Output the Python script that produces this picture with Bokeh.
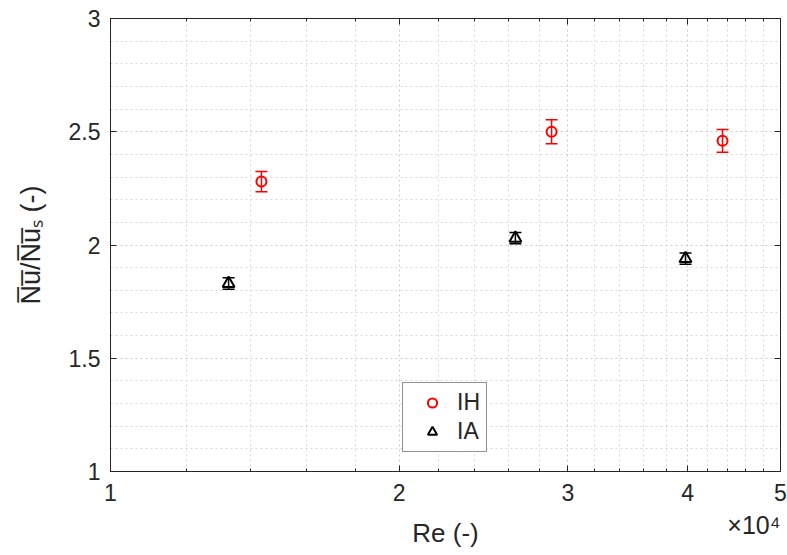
from bokeh.plotting import figure
from bokeh.models import (FixedTicker, Whisker, TeeHead, ColumnDataSource,
                          Legend, LegendItem, LogAxis, LinearAxis, Range1d)
from bokeh.embed import file_html
from bokeh.resources import INLINE

# ---- data ----
ih_re = [1.437e4, 2.885e4, 4.35e4]
ih_nu = [2.28, 2.50, 2.46]
ih_err = [0.045, 0.053, 0.050]

ia_re = [1.328e4, 2.645e4, 3.98e4]
ia_nu = [1.83, 2.03, 1.94]
ia_err = [0.025, 0.025, 0.025]

x_major = [1e4, 2e4, 3e4, 4e4, 5e4]
x_major_labels = ["1", "2", "3", "4", "5"]
x_minor = [1.2e4, 1.4e4, 1.6e4, 1.8e4, 2.2e4, 2.4e4, 2.6e4, 2.8e4,
           3.2e4, 3.4e4, 3.6e4, 3.8e4, 4.2e4, 4.4e4, 4.6e4, 4.8e4]
y_major = [1, 1.5, 2, 2.5, 3]
y_major_labels = ["1", "1.5", "2", "2.5", "3"]
y_minor = [1.1, 1.2, 1.3, 1.4, 1.6, 1.7, 1.8, 1.9, 2.1, 2.2, 2.3, 2.4,
           2.6, 2.7, 2.8, 2.9]

FONT = "Liberation Sans"
AX = "#262626"

p = figure(width=787, height=555, x_axis_type="log",
           x_range=Range1d(1e4, 5e4), y_range=Range1d(1, 3),
           output_backend="svg", toolbar_location=None,
           min_border_left=110, min_border_right=7,
           min_border_top=18, min_border_bottom=83,
           background_fill_color="white", border_fill_color="white")
p.outline_line_color = AX
p.outline_line_width = 1

xt = FixedTicker(ticks=x_major, minor_ticks=x_minor)
yt = FixedTicker(ticks=y_major, minor_ticks=y_minor)

xa = p.xaxis[0]
xa.ticker = xt
xa.major_label_overrides = {v: s for v, s in zip(x_major, x_major_labels)}
xa.axis_label = "Re (-)"
ya = p.yaxis[0]
ya.ticker = yt
ya.major_label_overrides = {v: s for v, s in zip(y_major, y_major_labels)}
ya.axis_label = "N\u0305u\u0305/N\u0305u\u0305\u209b (-)"

for ax in (xa, ya):
    ax.axis_line_color = AX
    ax.major_tick_line_color = AX
    ax.minor_tick_line_color = AX
    ax.major_tick_in = 6
    ax.major_tick_out = 0
    ax.minor_tick_in = 3
    ax.minor_tick_out = 0
    ax.major_label_text_font = FONT
    ax.major_label_text_font_size = "23px"
    ax.major_label_text_color = AX
    ax.axis_label_text_font = FONT
    ax.axis_label_text_font_size = "26px"
    ax.axis_label_text_color = AX
    ax.axis_label_text_font_style = "normal"
ya.minor_tick_line_color = None
ya.axis_label_text_font_size = "27px"
xa.major_label_standoff = 12
ya.major_label_standoff = 10
xa.axis_label_standoff = 14
ya.axis_label_standoff = 20

# mirrored ticks on top and right (labels not painted)
top = LogAxis(ticker=xt, axis_line_color=AX, major_tick_line_color=AX,
              minor_tick_line_color=AX, major_tick_in=6, major_tick_out=0,
              minor_tick_in=3, minor_tick_out=0, major_label_standoff=0,
              major_label_text_color=None, major_label_text_font_size="1px")
right = LinearAxis(ticker=yt, axis_line_color=AX, major_tick_line_color=AX,
                   minor_tick_line_color=None, major_tick_in=6, major_tick_out=0,
                   major_label_standoff=0,
                   major_label_text_color=None, major_label_text_font_size="1px")
p.add_layout(top, "above")
p.add_layout(right, "right")

# exponent "x10^4" as the label of an empty second axis below, pulled up
ex = LogAxis(ticker=FixedTicker(ticks=[]), axis_line_color=None,
             major_tick_line_color=None, minor_tick_line_color=None,
             major_tick_in=0, major_tick_out=0, minor_tick_in=0, minor_tick_out=0,
             major_label_standoff=0,
             axis_label="\u00d710\u2074", axis_label_align="end",
             axis_label_orientation=0.0001,
             axis_label_standoff=-26,
             axis_label_text_font=FONT, axis_label_text_font_size="25px",
             axis_label_text_color=AX, axis_label_text_font_style="normal")
p.add_layout(ex, "below")

# grid
for g in (p.xgrid[0], p.ygrid[0]):
    g.grid_line_color = "#cccccc"
    g.grid_line_dash = "2 3"
    g.grid_line_width = 1
    g.minor_grid_line_color = "#d8d8d8"
    g.minor_grid_line_dash = "2 3"
    g.minor_grid_line_width = 1
p.xgrid[0].ticker = xt
p.ygrid[0].ticker = yt

# error bars
ih_src = ColumnDataSource(dict(x=ih_re, y=ih_nu,
                               lo=[v - e for v, e in zip(ih_nu, ih_err)],
                               hi=[v + e for v, e in zip(ih_nu, ih_err)]))
ia_src = ColumnDataSource(dict(x=ia_re, y=ia_nu,
                               lo=[v - e for v, e in zip(ia_nu, ia_err)],
                               hi=[v + e for v, e in zip(ia_nu, ia_err)]))

for src, col in ((ih_src, "#ff0000"), (ia_src, "#000000")):
    w = Whisker(source=src, base="x", upper="hi", lower="lo", dimension="height",
                line_color=col, line_width=1.5, level="overlay",
                upper_head=TeeHead(size=12, line_color=col, line_width=1.5),
                lower_head=TeeHead(size=12, line_color=col, line_width=1.5))
    p.add_layout(w)

r_ih = p.scatter("x", "y", source=ih_src, marker="circle", size=10,
                 fill_color=None, line_color="#ff0000", line_width=2)
r_ia = p.scatter("x", "y", source=ia_src, marker="triangle", size=12,
                 fill_color=None, line_color="#000000", line_width=2)

legend = Legend(items=[LegendItem(label="IH", renderers=[r_ih]),
                       LegendItem(label="IA", renderers=[r_ia])],
                location=(292, 19), orientation="vertical",
                label_text_font=FONT, label_text_font_size="23px",
                label_text_color=AX, glyph_width=46, glyph_height=23,
                label_height=23, label_standoff=2, padding=6, spacing=2,
                margin=0, border_line_color=AX, border_line_width=1,
                background_fill_color="white", background_fill_alpha=1)
p.add_layout(legend, "center")

open("out.html", "w").write(file_html(p, INLINE))
